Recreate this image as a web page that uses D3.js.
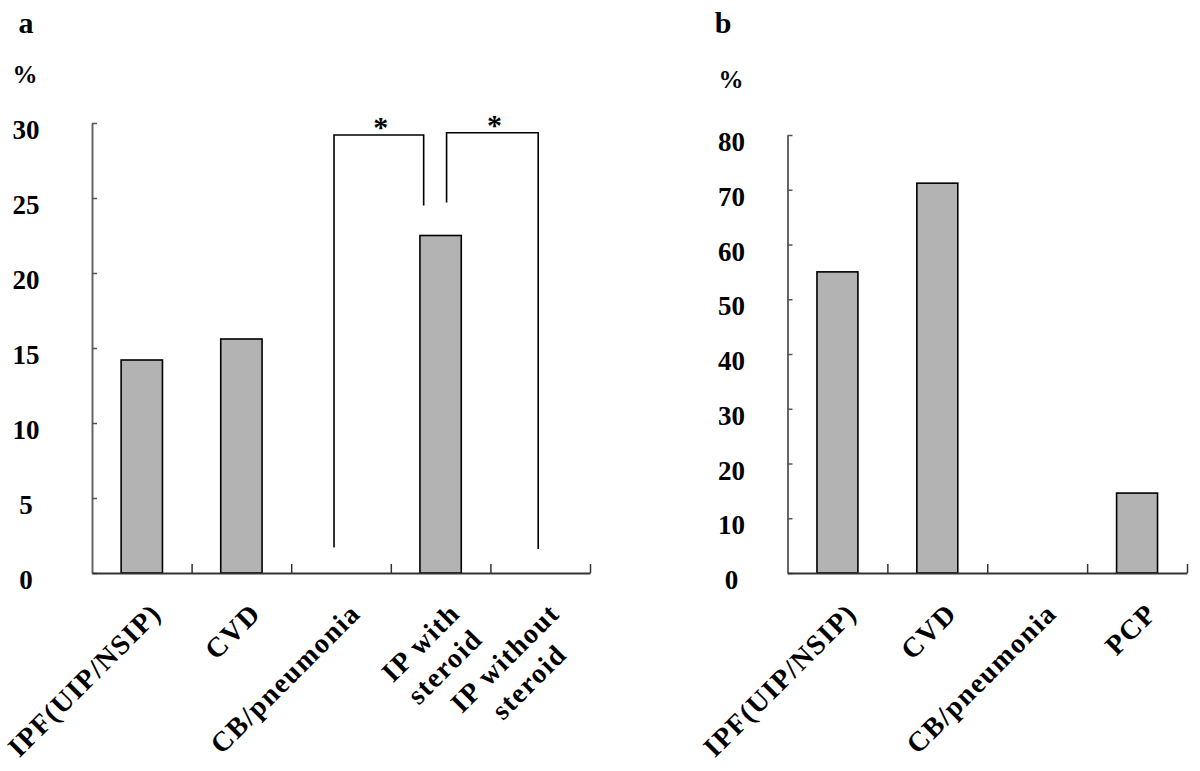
<!DOCTYPE html>
<html>
<head>
<meta charset="utf-8">
<script src="https://cdn.jsdelivr.net/npm/d3@7"></script>
<style>
  body { margin: 0; background: #fff; }
  svg { display: block; }
  text { font-family: "Liberation Serif", "Times New Roman", serif; font-weight: bold; fill: #000; }
</style>
</head>
<body>
<svg id="chart" width="1200" height="771"></svg>
<script>
// Panel a
const categoriesA = ["IPF(UIP/NSIP)", "CVD", "CB/pneumonia", "IP with\nsteroid", "IP without\nsteroid"];
const valuesA = [14.2, 15.6, 0, 22.5, 0];
const ticksA = [0, 5, 10, 15, 20, 25, 30];
// significance brackets: leg positions in category units, heights in %
const bracketsA = [
    { from: 2.43, to: 3.33, top: 29.2, lowFrom: 1.7, lowTo: 24.5, label: "*" },
    { from: 3.56, to: 4.48, top: 29.35, lowFrom: 24.7, lowTo: 1.6, label: "*" }
];

// Panel b
const categoriesB = ["IPF(UIP/NSIP)", "CVD", "CB/pneumonia", "PCP"];
const valuesB = [55.0, 71.2, 0, 14.6];
const ticksB = [0, 10, 20, 30, 40, 50, 60, 70, 80];

const svg = d3.select("#chart");

function drawPanel(opts) {
    const g = svg.append("g");
    const n = opts.categories.length;

    const x = d3.scaleBand()
        .domain(opts.categories)
        .range([opts.x0, opts.x1]);
    const xIdx = d3.scaleLinear().domain([0, n]).range([opts.x0, opts.x1]);
    const y = d3.scaleLinear().domain([0, opts.max]).range([opts.base, opts.top]);

    // y axis, ticks pointing inward, labels centred left of it
    const yAxis = g.append("g")
        .attr("transform", `translate(${opts.x0},0)`)
        .call(d3.axisLeft(y).tickValues(opts.ticks).tickSizeInner(-5).tickSizeOuter(0).tickPadding(opts.labelGap));
    yAxis.select(".domain").attr("stroke", "#666").attr("stroke-width", 2);
    yAxis.selectAll(".tick line").attr("stroke", "#555").attr("stroke-width", 1.5);
    yAxis.selectAll(".tick text")
        .attr("text-anchor", "middle")
        .attr("dy", "0.58em")
        .style("font-size", "27px")
        .style("font-family", "'Liberation Serif', serif")
        .style("font-weight", "bold")
        .attr("fill", "#000");

    // bars
    const bw = x.bandwidth() * opts.barFrac;
    g.selectAll("rect.bar")
        .data(opts.values.map((v, i) => ({ c: opts.categories[i], v })).filter(d => d.v > 0))
        .enter()
        .append("rect")
        .attr("class", "bar")
        .attr("x", d => x(d.c) + (x.bandwidth() - bw) / 2)
        .attr("width", bw)
        .attr("y", d => y(d.v))
        .attr("height", d => y(0) - y(d.v))
        .attr("fill", "#b3b3b3")
        .attr("stroke", "#000")
        .attr("stroke-width", 1.6);

    // x axis with ticks at category boundaries, pointing up
    const xAxis = g.append("g")
        .attr("transform", `translate(0,${opts.base})`)
        .call(d3.axisBottom(xIdx).tickValues(d3.range(1, n + 1)).tickSizeInner(-9).tickSizeOuter(0).tickFormat(""));
    xAxis.select(".domain").attr("stroke", "#333").attr("stroke-width", 2);
    xAxis.selectAll(".tick line").attr("stroke", "#333").attr("stroke-width", 1.5);

    // rotated category labels (multi-line labels centred on the longest line)
    const lineH = 34;
    opts.categories.forEach(c => {
        const lines = c.split("\n");
        const lg = g.append("g")
            .attr("transform", `translate(${x(c) + x.bandwidth() / 2 + 21},${opts.base + 42}) rotate(-45)`);
        const texts = lines.map((s, i) => lg.append("text")
            .attr("y", i * lineH)
            .style("font-size", "28px")
            .style("letter-spacing", "1.5px")
            .text(s));
        const maxW = d3.max(texts, t => t.node().getComputedTextLength());
        texts.forEach(t => t.attr("x", -maxW / 2).attr("text-anchor", "middle"));
    });

    // significance brackets
    (opts.brackets || []).forEach(b => {
        const path = d3.path();
        path.moveTo(xIdx(b.from), y(b.lowFrom));
        path.lineTo(xIdx(b.from), y(b.top));
        path.lineTo(xIdx(b.to), y(b.top));
        path.lineTo(xIdx(b.to), y(b.lowTo));
        g.append("path")
            .attr("d", path.toString())
            .attr("fill", "none")
            .attr("stroke", "#000")
            .attr("stroke-width", 1.6);
        g.append("text")
            .attr("x", (xIdx(b.from) + xIdx(b.to)) / 2 + 2)
            .attr("y", y(b.top) + 2)
            .attr("text-anchor", "middle")
            .style("font-size", "30px")
            .text(b.label);
    });

    // panel letter and unit
    g.append("text")
        .attr("x", opts.letterX)
        .attr("y", 33)
        .attr("text-anchor", "middle")
        .style("font-size", "30px")
        .text(opts.letter);
    g.append("text")
        .attr("x", opts.unitX)
        .attr("y", opts.unitY)
        .attr("text-anchor", "middle")
        .style("font-size", "25px")
        .text("%");
}

drawPanel({
    categories: categoriesA, values: valuesA, ticks: ticksA, brackets: bracketsA,
    max: 30, x0: 92, x1: 590, top: 123, base: 573, barFrac: 0.415, labelGap: 66,
    letter: "a", letterX: 26, unitX: 25, unitY: 83
});

drawPanel({
    categories: categoriesB, values: valuesB, ticks: ticksB,
    max: 80, x0: 787.5, x1: 1187, top: 135, base: 573, barFrac: 0.41, labelGap: 56,
    letter: "b", letterX: 723, unitX: 731, unitY: 88
});
</script>
</body>
</html>
